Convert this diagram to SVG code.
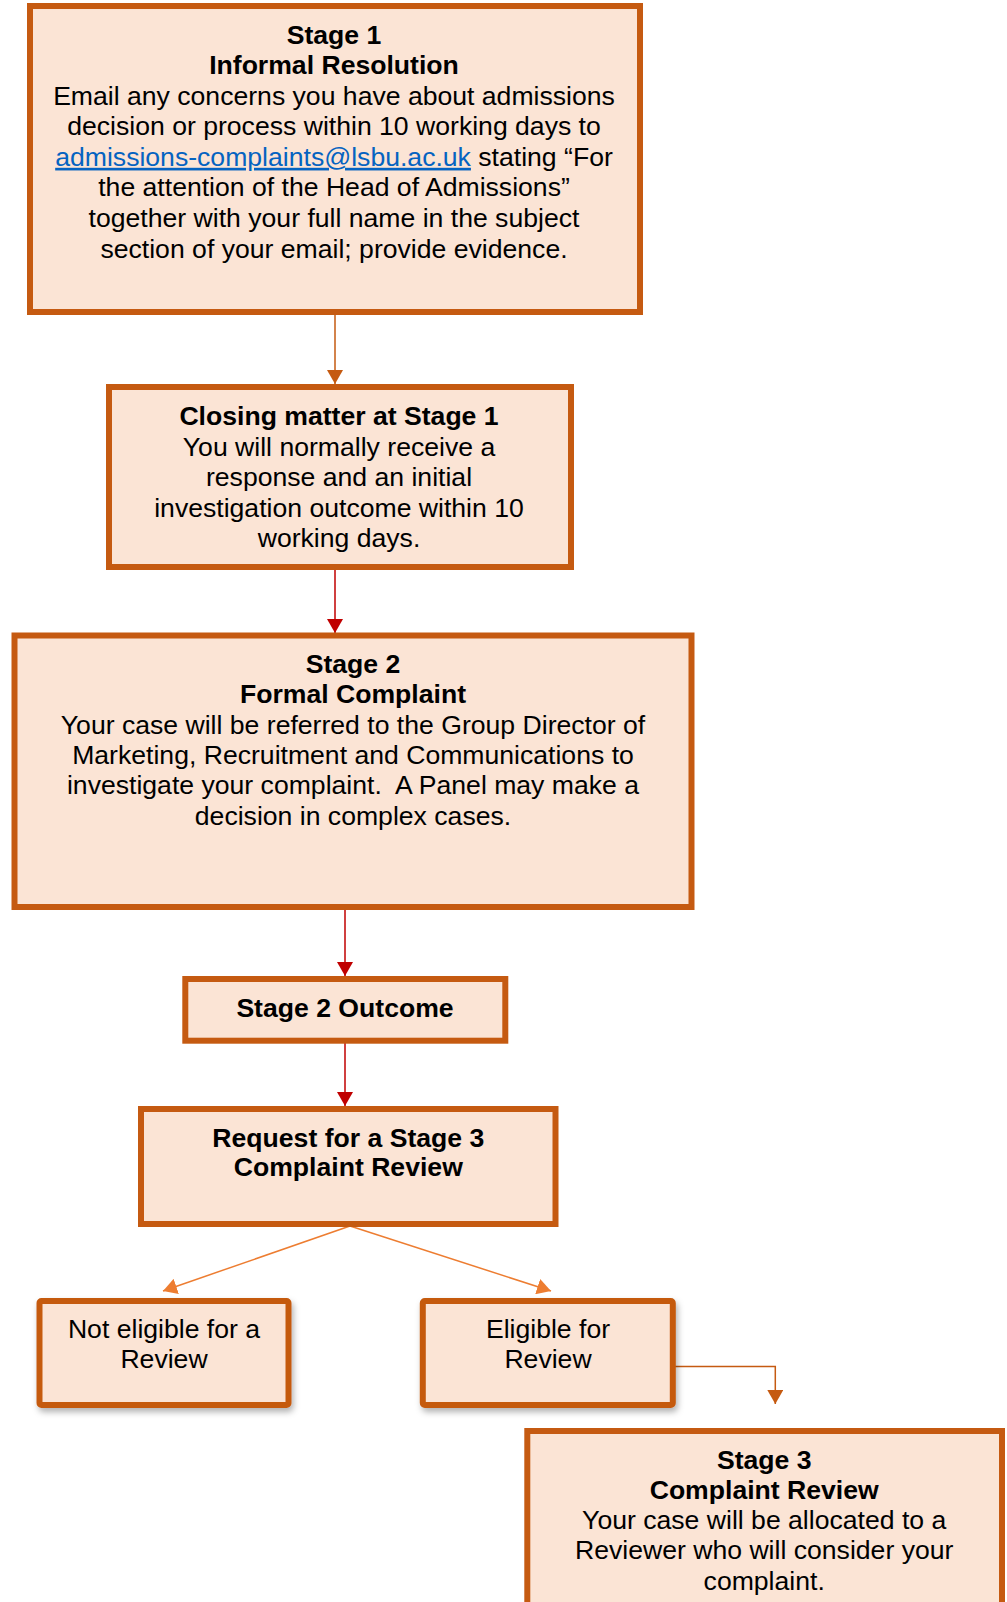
<svg xmlns="http://www.w3.org/2000/svg" width="1007" height="1602" viewBox="0 0 1007 1602">
<defs>
<style>
.box{fill:#FBE4D5;stroke:#C55A11;stroke-width:6}
.t{font-family:"Liberation Sans",Arial,sans-serif;font-size:26.6px;fill:#000;text-anchor:middle}
.b{font-weight:bold}
.link{fill:#0563C1;text-decoration:underline}
.c1{stroke:#C55A11;stroke-width:1.5;fill:none}
.c2{stroke:#C00000;stroke-width:1.5;fill:none}
.c3{stroke:#ED7D31;stroke-width:1.5;fill:none}
</style>
<marker id="aO" markerUnits="userSpaceOnUse" markerWidth="14" markerHeight="16" refX="14" refY="8" orient="auto"><path d="M0,0 L14,8 L0,16 z" fill="#C55A11"/></marker>
<marker id="aR" markerUnits="userSpaceOnUse" markerWidth="14" markerHeight="16" refX="14" refY="8" orient="auto"><path d="M0,0 L14,8 L0,16 z" fill="#C00000"/></marker>
<marker id="aL" markerUnits="userSpaceOnUse" markerWidth="14" markerHeight="16" refX="14" refY="8" orient="auto"><path d="M0,0 L14,8 L0,16 z" fill="#ED7D31"/></marker>
<filter id="sh" x="-10%" y="-10%" width="125%" height="130%"><feDropShadow dx="2" dy="4" stdDeviation="3" flood-color="#000" flood-opacity="0.3"/></filter>
</defs>

<g id="connectors">
<line class="c1" x1="335" y1="315" x2="335" y2="384" marker-end="url(#aO)"/>
<line class="c2" x1="335" y1="569" x2="335" y2="633" marker-end="url(#aR)"/>
<line class="c2" x1="345" y1="910" x2="345" y2="976" marker-end="url(#aR)"/>
<line class="c2" x1="345" y1="1043" x2="345" y2="1106" marker-end="url(#aR)"/>
<line class="c3" x1="350" y1="1226" x2="163" y2="1291" marker-end="url(#aL)"/>
<line class="c3" x1="350" y1="1226" x2="551" y2="1291" marker-end="url(#aL)"/>
<polyline class="c1" points="675,1366.5 775.3,1366.5 775.3,1404" marker-end="url(#aO)"/>
</g>

<g id="stage1">
<rect class="box" x="30" y="6" width="610" height="306"/>
<text class="t b" x="334" y="43.5">Stage 1</text>
<text class="t b" x="334" y="74">Informal Resolution</text>
<text class="t" x="334" y="104.6">Email any concerns you have about admissions</text>
<text class="t" x="334" y="135.2">decision or process within 10 working days to</text>
<text class="t" x="334" y="165.8"><tspan class="link">admissions-complaints@lsbu.ac.uk</tspan> stating “For</text>
<text class="t" x="334" y="196.4">the attention of the Head of Admissions”</text>
<text class="t" x="334" y="227">together with your full name in the subject</text>
<text class="t" x="334" y="257.6">section of your email; provide evidence.</text>
</g>

<g id="closing">
<rect class="box" x="109" y="387" width="462" height="180"/>
<text class="t b" x="339" y="425">Closing matter at Stage 1</text>
<text class="t" x="339" y="455.5">You will normally receive a</text>
<text class="t" x="339" y="486">response and an initial</text>
<text class="t" x="339" y="516.5">investigation outcome within 10</text>
<text class="t" x="339" y="547">working days.</text>
</g>

<g id="stage2">
<rect class="box" x="14.5" y="635.5" width="677" height="271.5"/>
<text class="t b" x="353" y="672.7">Stage 2</text>
<text class="t b" x="353" y="703.3">Formal Complaint</text>
<text class="t" x="353" y="733.6">Your case will be referred to the Group Director of</text>
<text class="t" x="353" y="764">Marketing, Recruitment and Communications to</text>
<text class="t" x="353" y="794.4">investigate your complaint.&#160; A Panel may make a</text>
<text class="t" x="353" y="824.8">decision in complex cases.</text>
</g>

<g id="outcome">
<rect class="box" x="185.3" y="979" width="320" height="61.7"/>
<text class="t b" x="345" y="1017.3">Stage 2 Outcome</text>
</g>

<g id="request">
<rect class="box" x="141" y="1109" width="414.5" height="115"/>
<text class="t b" x="348.3" y="1146.7">Request for a Stage 3</text>
<text class="t b" x="348.3" y="1176.3">Complaint Review</text>
</g>

<g id="noteligible">
<rect class="box" x="39.5" y="1301" width="249" height="104" rx="2" filter="url(#sh)"/>
<text class="t" x="164" y="1338.3">Not eligible for a</text>
<text class="t" x="164" y="1368.3">Review</text>
</g>

<g id="eligible">
<rect class="box" x="422.8" y="1301" width="250" height="104" rx="2" filter="url(#sh)"/>
<text class="t" x="548" y="1338.3">Eligible for</text>
<text class="t" x="548" y="1368.3">Review</text>
</g>

<g id="stage3">
<rect class="box" x="527.3" y="1431" width="474.7" height="200"/>
<text class="t b" x="764.2" y="1469">Stage 3</text>
<text class="t b" x="764.2" y="1498.5">Complaint Review</text>
<text class="t" x="764.2" y="1528.7">Your case will be allocated to a</text>
<text class="t" x="764.2" y="1559.2">Reviewer who will consider your</text>
<text class="t" x="764.2" y="1589.7">complaint.</text>
</g>
</svg>
